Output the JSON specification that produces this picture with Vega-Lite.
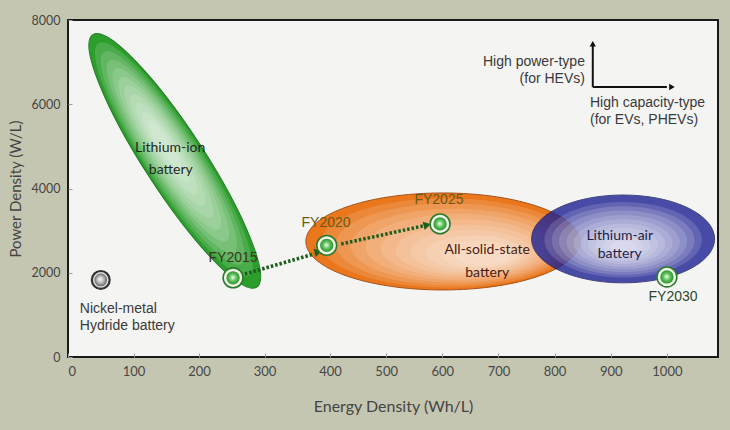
{
  "$schema": "https://vega.github.io/schema/vega-lite/v6.json",
  "width": 650,
  "height": 337,
  "autosize": {"type": "none"},
  "padding": {"left": 68, "top": 20, "right": 12, "bottom": 73},
  "background": "#c5c6b1",
  "config": {
    "view": {"fill": "#f4f4f2", "stroke": "#1a1a1a", "strokeWidth": 2},
    "axis": {"grid": false, "domain": false, "labelFont": "Lato", "titleFont": "Lato", "labelColor": "#464646", "titleColor": "#444444", "titleFontWeight": "normal", "tickColor": "#9a9a9a", "tickSize": -4, "tickWidth": 1, "format": "d"}
  },
  "datasets": {
    "regions": [
      {"name": "Lithium-ion battery", "x": 163, "y": 4655},
      {"name": "All-solid-state battery", "x": 601, "y": 2743},
      {"name": "Lithium-air battery", "x": 922, "y": 2803}
    ],
    "points": [
      {"name": "Nickel-metal Hydride battery", "type": "NiMH", "x": 50, "y": 1830},
      {"name": "FY2015", "type": "target", "x": 252, "y": 1880},
      {"name": "FY2020", "type": "target", "x": 395, "y": 2650},
      {"name": "FY2025", "type": "target", "x": 596, "y": 3160},
      {"name": "FY2030", "type": "target", "x": 1000, "y": 1900}
    ],
    "arrows": [
      {"x": 270, "y": 1971, "x2": 376, "y2": 2447},
      {"x": 420, "y": 2684, "x2": 566, "y2": 3112}
    ],
    "heads": [
      {"x": 382, "y": 2494},
      {"x": 573, "y": 3135}
    ],
    "axes": [
      {"x": 868, "y": 6410, "x2": 868, "y2": 7400},
      {"x": 868, "y": 6410, "x2": 1000, "y2": 6410}
    ],
    "axisHeadUp": [{"x": 868, "y": 7435}],
    "axisHeadRight": [{"x": 1009, "y": 6410}],
    "labels": [
      {"kind": "fy", "tag": "fy15", "text": "FY2015", "x": 252, "y": 2350},
      {"kind": "fy", "tag": "fy20", "text": "FY2020", "x": 394, "y": 3180},
      {"kind": "fy", "tag": "fy25", "text": "FY2025", "x": 594, "y": 3730},
      {"kind": "fy", "tag": "fy30", "text": "FY2030", "x": 1011, "y": 1425},
      {"kind": "region", "tag": "liion", "text": "Lithium-ion", "x": 156, "y": 4965},
      {"kind": "region", "tag": "liion", "text": "battery", "x": 157, "y": 4440},
      {"kind": "region", "tag": "solid", "text": "All-solid-state", "x": 680, "y": 2540},
      {"kind": "region", "tag": "solid", "text": "battery", "x": 680, "y": 1995},
      {"kind": "region", "tag": "air", "text": "Lithium-air", "x": 916, "y": 2875},
      {"kind": "region", "tag": "air", "text": "battery", "x": 916, "y": 2445},
      {"kind": "left", "tag": "nimh", "text": "Nickel-metal", "x": 18, "y": 1140},
      {"kind": "left", "tag": "nimh", "text": "Hydride battery", "x": 18, "y": 735},
      {"kind": "left", "tag": "legendC", "text": "High capacity-type", "x": 863, "y": 6030},
      {"kind": "left", "tag": "legendC", "text": "(for EVs, PHEVs)", "x": 863, "y": 5630},
      {"kind": "right", "tag": "legendP", "text": "High power-type", "x": 854, "y": 7005},
      {"kind": "right", "tag": "legendP", "text": "(for HEVs)", "x": 854, "y": 6600}
    ]
  },
  "encoding": {
    "x": {
      "field": "x", "type": "quantitative",
      "scale": {"domain": [0, 400, 1091], "range": [0, 262, 650], "nice": false, "zero": false},
      "axis": {"title": "Energy Density  (Wh/L)", "values": [0, 100, 200, 300, 400, 500, 600, 700, 800, 900, 1000], "labelFontSize": 13, "labelPadding": 12, "titleFontSize": 16, "titlePadding": 20}
    },
    "y": {
      "field": "y", "type": "quantitative",
      "scale": {"domain": [0, 8000], "nice": false, "zero": false},
      "axis": {"title": "Power Density  (W/L)", "values": [0, 2000, 4000, 6000, 8000], "labelFontSize": 12.5, "labelPadding": 12, "titleFontSize": 15, "titlePadding": 8}
    }
  },
  "layer": [
    {"data": {"name": "regions"}, "transform": [{"filter": "datum.name === 'Lithium-ion battery'"}],
     "mark": {"type": "point", "filled": true, "opacity": 1, "shape": "M0,-1A0.2,1,0,1,1,0,1A0.2,1,0,1,1,0,-1Z", "size": 90601, "angle": -33, "fill": "#2c9e2c", "stroke": "#1f7a22", "strokeWidth": 1}},
    {"data": {"name": "regions"}, "transform": [{"filter": "datum.name === 'Lithium-ion battery'"}], "mark": {"type": "point", "filled": true, "opacity": 0.14, "color": "#ffffff", "shape": "M0,-1A0.2,1,0,1,1,0,1A0.2,1,0,1,1,0,-1Z", "angle": -33, "size": 76674, "xOffset": -1.0, "yOffset": -1.5}},
    {"data": {"name": "regions"}, "transform": [{"filter": "datum.name === 'Lithium-ion battery'"}], "mark": {"type": "point", "filled": true, "opacity": 0.14, "color": "#ffffff", "shape": "M0,-1A0.2,1,0,1,1,0,1A0.2,1,0,1,1,0,-1Z", "angle": -33, "size": 63920, "xOffset": -2.0, "yOffset": -3.0}},
    {"data": {"name": "regions"}, "transform": [{"filter": "datum.name === 'Lithium-ion battery'"}], "mark": {"type": "point", "filled": true, "opacity": 0.14, "color": "#ffffff", "shape": "M0,-1A0.2,1,0,1,1,0,1A0.2,1,0,1,1,0,-1Z", "angle": -33, "size": 52339, "xOffset": -2.9, "yOffset": -4.5}},
    {"data": {"name": "regions"}, "transform": [{"filter": "datum.name === 'Lithium-ion battery'"}], "mark": {"type": "point", "filled": true, "opacity": 0.14, "color": "#ffffff", "shape": "M0,-1A0.2,1,0,1,1,0,1A0.2,1,0,1,1,0,-1Z", "angle": -33, "size": 41901, "xOffset": -3.9, "yOffset": -6.0}},
    {"data": {"name": "regions"}, "transform": [{"filter": "datum.name === 'Lithium-ion battery'"}], "mark": {"type": "point", "filled": true, "opacity": 0.14, "color": "#ffffff", "shape": "M0,-1A0.2,1,0,1,1,0,1A0.2,1,0,1,1,0,-1Z", "angle": -33, "size": 32616, "xOffset": -4.9, "yOffset": -7.6}},
    {"data": {"name": "regions"}, "transform": [{"filter": "datum.name === 'Lithium-ion battery'"}], "mark": {"type": "point", "filled": true, "opacity": 0.14, "color": "#ffffff", "shape": "M0,-1A0.2,1,0,1,1,0,1A0.2,1,0,1,1,0,-1Z", "angle": -33, "size": 24495, "xOffset": -5.9, "yOffset": -9.1}},
    {"data": {"name": "regions"}, "transform": [{"filter": "datum.name === 'Lithium-ion battery'"}], "mark": {"type": "point", "filled": true, "opacity": 0.14, "color": "#ffffff", "shape": "M0,-1A0.2,1,0,1,1,0,1A0.2,1,0,1,1,0,-1Z", "angle": -33, "size": 17530, "xOffset": -6.9, "yOffset": -10.6}},
    {"data": {"name": "regions"}, "transform": [{"filter": "datum.name === 'Lithium-ion battery'"}], "mark": {"type": "point", "filled": true, "opacity": 0.14, "color": "#ffffff", "shape": "M0,-1A0.2,1,0,1,1,0,1A0.2,1,0,1,1,0,-1Z", "angle": -33, "size": 11743, "xOffset": -7.8, "yOffset": -12.1}},
    {"data": {"name": "regions"}, "transform": [{"filter": "datum.name === 'Lithium-ion battery'"}], "mark": {"type": "point", "filled": true, "opacity": 0.14, "color": "#ffffff", "shape": "M0,-1A0.2,1,0,1,1,0,1A0.2,1,0,1,1,0,-1Z", "angle": -33, "size": 7103, "xOffset": -8.8, "yOffset": -13.6}},
    {"data": {"name": "regions"}, "transform": [{"filter": "datum.name === 'Lithium-ion battery'"}], "mark": {"type": "point", "filled": true, "opacity": 0.14, "color": "#ffffff", "shape": "M0,-1A0.2,1,0,1,1,0,1A0.2,1,0,1,1,0,-1Z", "angle": -33, "size": 3624, "xOffset": -9.8, "yOffset": -15.1}},

    {"data": {"name": "regions"}, "transform": [{"filter": "datum.name === 'All-solid-state battery'"}],
     "mark": {"type": "point", "filled": true, "opacity": 1, "shape": "M-1,0A1,0.354,0,1,1,1,0A1,0.354,0,1,1,-1,0Z", "size": 75076, "fill": "#ea771c", "stroke": "#a4531c", "strokeWidth": 1}},
    {"data": {"name": "regions"}, "transform": [{"filter": "datum.name === 'All-solid-state battery'"}], "mark": {"type": "point", "filled": true, "opacity": 0.13, "color": "#ffffff", "shape": "M-1,0A1,0.354,0,1,1,1,0A1,0.354,0,1,1,-1,0Z", "size": 63550, "xOffset": 4, "yOffset": 1.4}},
    {"data": {"name": "regions"}, "transform": [{"filter": "datum.name === 'All-solid-state battery'"}], "mark": {"type": "point", "filled": true, "opacity": 0.13, "color": "#ffffff", "shape": "M-1,0A1,0.354,0,1,1,1,0A1,0.354,0,1,1,-1,0Z", "size": 52990, "xOffset": 8, "yOffset": 2.8}},
    {"data": {"name": "regions"}, "transform": [{"filter": "datum.name === 'All-solid-state battery'"}], "mark": {"type": "point", "filled": true, "opacity": 0.13, "color": "#ffffff", "shape": "M-1,0A1,0.354,0,1,1,1,0A1,0.354,0,1,1,-1,0Z", "size": 43360, "xOffset": 12, "yOffset": 4.2}},
    {"data": {"name": "regions"}, "transform": [{"filter": "datum.name === 'All-solid-state battery'"}], "mark": {"type": "point", "filled": true, "opacity": 0.13, "color": "#ffffff", "shape": "M-1,0A1,0.354,0,1,1,1,0A1,0.354,0,1,1,-1,0Z", "size": 34710, "xOffset": 16, "yOffset": 5.6}},
    {"data": {"name": "regions"}, "transform": [{"filter": "datum.name === 'All-solid-state battery'"}], "mark": {"type": "point", "filled": true, "opacity": 0.13, "color": "#ffffff", "shape": "M-1,0A1,0.354,0,1,1,1,0A1,0.354,0,1,1,-1,0Z", "size": 27030, "xOffset": 20, "yOffset": 7}},
    {"data": {"name": "regions"}, "transform": [{"filter": "datum.name === 'All-solid-state battery'"}], "mark": {"type": "point", "filled": true, "opacity": 0.13, "color": "#ffffff", "shape": "M-1,0A1,0.354,0,1,1,1,0A1,0.354,0,1,1,-1,0Z", "size": 20300, "xOffset": 24, "yOffset": 8.4}},
    {"data": {"name": "regions"}, "transform": [{"filter": "datum.name === 'All-solid-state battery'"}], "mark": {"type": "point", "filled": true, "opacity": 0.13, "color": "#ffffff", "shape": "M-1,0A1,0.354,0,1,1,1,0A1,0.354,0,1,1,-1,0Z", "size": 14540, "xOffset": 28, "yOffset": 9.8}},
    {"data": {"name": "regions"}, "transform": [{"filter": "datum.name === 'All-solid-state battery'"}], "mark": {"type": "point", "filled": true, "opacity": 0.13, "color": "#ffffff", "shape": "M-1,0A1,0.354,0,1,1,1,0A1,0.354,0,1,1,-1,0Z", "size": 9730, "xOffset": 32, "yOffset": 11.2}},
    {"data": {"name": "regions"}, "transform": [{"filter": "datum.name === 'All-solid-state battery'"}], "mark": {"type": "point", "filled": true, "opacity": 0.13, "color": "#ffffff", "shape": "M-1,0A1,0.354,0,1,1,1,0A1,0.354,0,1,1,-1,0Z", "size": 5885, "xOffset": 36, "yOffset": 12.6}},
    {"data": {"name": "regions"}, "transform": [{"filter": "datum.name === 'All-solid-state battery'"}], "mark": {"type": "point", "filled": true, "opacity": 0.13, "color": "#ffffff", "shape": "M-1,0A1,0.354,0,1,1,1,0A1,0.354,0,1,1,-1,0Z", "size": 3003, "xOffset": 40, "yOffset": 14}},

    {"data": {"name": "regions"}, "transform": [{"filter": "datum.name === 'Lithium-air battery'"}],
     "mark": {"type": "point", "filled": true, "opacity": 0.8, "shape": "M-1,0A1,0.48,0,1,1,1,0A1,0.48,0,1,1,-1,0Z", "size": 33489, "fill": "#1e2294", "stroke": "#161a60", "strokeWidth": 1}},
    {"data": {"name": "regions"}, "transform": [{"filter": "datum.name === 'Lithium-air battery'"}], "mark": {"type": "point", "filled": true, "opacity": 0.15, "color": "#ffffff", "shape": "M-1,0A1,0.48,0,1,1,1,0A1,0.48,0,1,1,-1,0Z", "size": 24770, "yOffset": 0.8}},
    {"data": {"name": "regions"}, "transform": [{"filter": "datum.name === 'Lithium-air battery'"}], "mark": {"type": "point", "filled": true, "opacity": 0.15, "color": "#ffffff", "shape": "M-1,0A1,0.48,0,1,1,1,0A1,0.48,0,1,1,-1,0Z", "size": 20370, "yOffset": 1.6}},
    {"data": {"name": "regions"}, "transform": [{"filter": "datum.name === 'Lithium-air battery'"}], "mark": {"type": "point", "filled": true, "opacity": 0.15, "color": "#ffffff", "shape": "M-1,0A1,0.48,0,1,1,1,0A1,0.48,0,1,1,-1,0Z", "size": 16410, "yOffset": 2.4}},
    {"data": {"name": "regions"}, "transform": [{"filter": "datum.name === 'Lithium-air battery'"}], "mark": {"type": "point", "filled": true, "opacity": 0.15, "color": "#ffffff", "shape": "M-1,0A1,0.48,0,1,1,1,0A1,0.48,0,1,1,-1,0Z", "size": 12870, "yOffset": 3.2}},
    {"data": {"name": "regions"}, "transform": [{"filter": "datum.name === 'Lithium-air battery'"}], "mark": {"type": "point", "filled": true, "opacity": 0.15, "color": "#ffffff", "shape": "M-1,0A1,0.48,0,1,1,1,0A1,0.48,0,1,1,-1,0Z", "size": 9766, "yOffset": 4}},
    {"data": {"name": "regions"}, "transform": [{"filter": "datum.name === 'Lithium-air battery'"}], "mark": {"type": "point", "filled": true, "opacity": 0.15, "color": "#ffffff", "shape": "M-1,0A1,0.48,0,1,1,1,0A1,0.48,0,1,1,-1,0Z", "size": 7087, "yOffset": 4.8}},
    {"data": {"name": "regions"}, "transform": [{"filter": "datum.name === 'Lithium-air battery'"}], "mark": {"type": "point", "filled": true, "opacity": 0.15, "color": "#ffffff", "shape": "M-1,0A1,0.48,0,1,1,1,0A1,0.48,0,1,1,-1,0Z", "size": 4836, "yOffset": 5.6}},
    {"data": {"name": "regions"}, "transform": [{"filter": "datum.name === 'Lithium-air battery'"}], "mark": {"type": "point", "filled": true, "opacity": 0.15, "color": "#ffffff", "shape": "M-1,0A1,0.48,0,1,1,1,0A1,0.48,0,1,1,-1,0Z", "size": 3014, "yOffset": 6.4}},
    {"data": {"name": "regions"}, "transform": [{"filter": "datum.name === 'Lithium-air battery'"}], "mark": {"type": "point", "filled": true, "opacity": 0.15, "color": "#ffffff", "shape": "M-1,0A1,0.48,0,1,1,1,0A1,0.48,0,1,1,-1,0Z", "size": 1621, "yOffset": 7.2}},
    {"data": {"name": "regions"}, "transform": [{"filter": "datum.name === 'Lithium-air battery'"}], "mark": {"type": "point", "filled": true, "opacity": 0.15, "color": "#ffffff", "shape": "M-1,0A1,0.48,0,1,1,1,0A1,0.48,0,1,1,-1,0Z", "size": 656, "yOffset": 8}},

    {
      "data": {"name": "arrows"},
      "mark": {"type": "rule", "color": "#1d5e1d", "strokeWidth": 3.5, "strokeDash": [2.5, 2]},
      "encoding": {"x2": {"field": "x2"}, "y2": {"field": "y2"}}
    },
    {
      "data": {"name": "heads"},
      "mark": {"type": "point", "shape": "triangle-right", "filled": true, "opacity": 1, "color": "#1d5e1d", "size": 70, "angle": -15}
    },
    {
      "data": {"name": "axes"},
      "mark": {"type": "rule", "color": "#111111", "strokeWidth": 2},
      "encoding": {"x2": {"field": "x2"}, "y2": {"field": "y2"}}
    },
    {
      "data": {"name": "axisHeadUp"},
      "mark": {"type": "point", "shape": "triangle-up", "filled": true, "opacity": 1, "color": "#111111", "size": 40}
    },
    {
      "data": {"name": "axisHeadRight"},
      "mark": {"type": "point", "shape": "triangle-right", "filled": true, "opacity": 1, "color": "#111111", "size": 40}
    },
    {
      "data": {"name": "points"},
      "transform": [{"filter": "datum.type === 'target'"}],
      "mark": {"type": "point", "shape": "circle", "filled": true, "opacity": 1, "color": "#2b7a2b", "size": 460}
    },
    {
      "data": {"name": "points"},
      "transform": [{"filter": "datum.type === 'target'"}],
      "mark": {
        "type": "point", "shape": "circle", "filled": true, "opacity": 1, "size": 250,
        "fill": {"gradient": "radial", "x1": 0.48, "y1": 0.48, "x2": 0.5, "y2": 0.5, "r1": 0, "r2": 0.5,
          "stops": [{"offset": 0, "color": "#f2fbef"}, {"offset": 0.45, "color": "#5cc35a"}, {"offset": 1, "color": "#1c7e24"}]},
        "stroke": "#eef6e6", "strokeWidth": 2.5
      }
    },
    {
      "data": {"name": "points"},
      "transform": [{"filter": "datum.type === 'NiMH'"}],
      "mark": {"type": "point", "shape": "circle", "filled": true, "opacity": 1, "color": "#333333", "size": 400}
    },
    {
      "data": {"name": "points"},
      "transform": [{"filter": "datum.type === 'NiMH'"}],
      "mark": {
        "type": "point", "shape": "circle", "filled": true, "opacity": 1, "size": 200,
        "fill": {"gradient": "radial", "x1": 0.45, "y1": 0.45, "x2": 0.5, "y2": 0.5, "r1": 0, "r2": 0.5,
          "stops": [{"offset": 0, "color": "#ffffff"}, {"offset": 0.5, "color": "#b8b8b8"}, {"offset": 1, "color": "#555555"}]},
        "stroke": "#dddddd", "strokeWidth": 1.5
      }
    },
    {
      "data": {"name": "labels"},
      "transform": [{"filter": "datum.kind === 'fy'"}],
      "mark": {"type": "text", "font": "Liberation Sans", "align": "center", "baseline": "middle"},
      "encoding": {
        "text": {"field": "text"},
        "color": {"field": "tag", "type": "nominal", "legend": null, "scale": {"domain": ["fy15", "fy20", "fy25", "fy30", "liion", "solid", "air", "nimh", "legendC", "legendP"], "range": ["#3a3a22", "#6a5a16", "#6a5a16", "#2d4a2e", "#1e2a1e", "#4a1a12", "#1e2246", "#3a3a3a", "#3a3a3a", "#3a3a3a"]}},
        "size": {"field": "tag", "type": "nominal", "legend": null, "scale": {"domain": ["fy15", "fy20", "fy25", "fy30", "liion", "solid", "air", "nimh", "legendC", "legendP"], "range": [14, 14, 14, 14, 13, 15, 14, 13, 12, 10.5]}}
      }
    },
    {
      "data": {"name": "labels"},
      "transform": [{"filter": "datum.kind === 'region'"}],
      "mark": {"type": "text", "font": "Lato", "align": "center", "baseline": "middle"},
      "encoding": {
        "text": {"field": "text"},
        "color": {"field": "tag", "type": "nominal", "legend": null},
        "size": {"field": "tag", "type": "nominal", "legend": null}
      }
    },
    {
      "data": {"name": "labels"},
      "transform": [{"filter": "datum.kind === 'left'"}],
      "mark": {"type": "text", "font": "Liberation Sans", "align": "left", "baseline": "middle"},
      "encoding": {
        "text": {"field": "text"},
        "color": {"field": "tag", "type": "nominal", "legend": null},
        "size": {"field": "tag", "type": "nominal", "legend": null}
      }
    },
    {
      "data": {"name": "labels"},
      "transform": [{"filter": "datum.kind === 'right'"}],
      "mark": {"type": "text", "font": "Liberation Sans", "align": "right", "baseline": "middle"},
      "encoding": {
        "text": {"field": "text"},
        "color": {"field": "tag", "type": "nominal", "legend": null},
        "size": {"field": "tag", "type": "nominal", "legend": null}
      }
    }
  ]
}
